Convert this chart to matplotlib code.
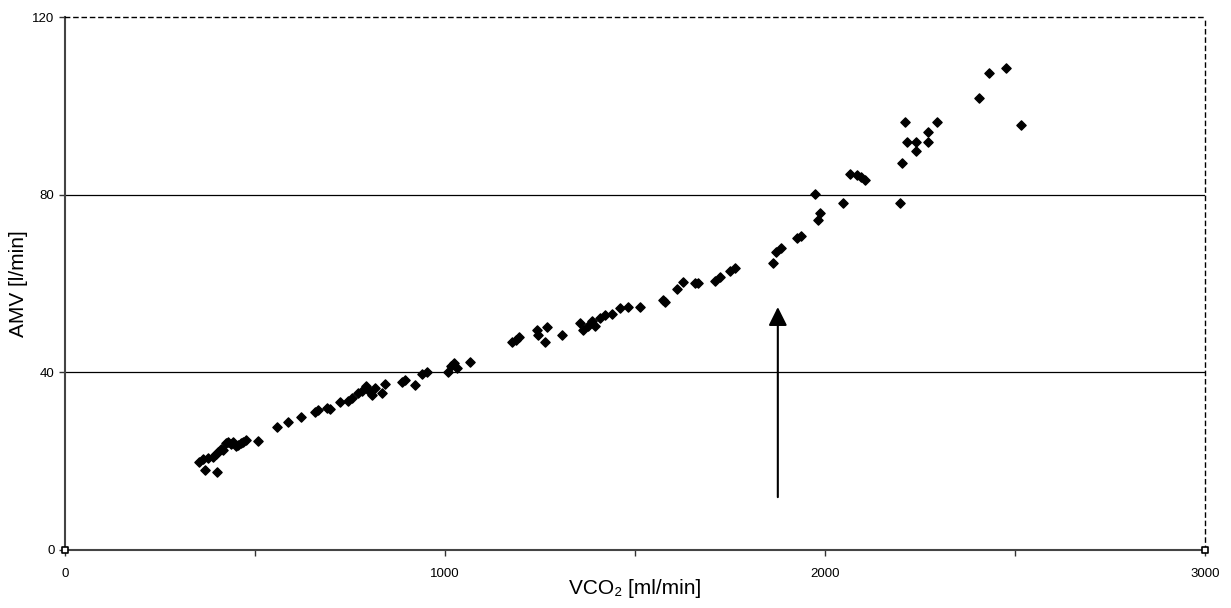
import matplotlib
matplotlib.use("Agg")
import matplotlib.pyplot as plt

plt.rcParams['font.family'] = ['Liberation Sans', 'DejaVu Sans']

# VCO2 [ml/min] and AMV [l/min]
vco2 = [352.6, 363.2, 368.4, 376.3, 389.5, 397.4, 400.0, 402.6, 410.5, 415.8,
        423.7, 428.9, 436.8, 442.1, 450.0, 455.3, 463.2, 468.4, 476.3, 507.9,
        557.9, 586.8, 621.1, 657.9, 665.8, 689.5, 697.4, 723.7, 744.7, 755.3,
        771.1, 781.6, 792.1, 797.4, 807.9, 815.8, 834.2, 842.1, 886.8, 894.7,
        921.1, 939.5, 952.6, 1007.9, 1015.8, 1023.7, 1031.6, 1065.8,
        1176.3, 1186.8, 1194.7, 1242.1, 1244.7, 1268.4, 1263.2, 1307.9,
        1355.3, 1363.2, 1376.3, 1386.8, 1394.7, 1407.9, 1421.1, 1439.5,
        1460.5, 1481.6, 1513.2, 1573.7, 1578.9, 1610.5, 1626.3, 1657.9, 1665.8,
        1710.5, 1723.7, 1750.0, 1763.2,
        1863.2, 1871.1, 1884.2, 1926.3, 1936.8, 1973.7, 1981.6, 1986.8,
        2047.0, 2065.8, 2084.2, 2094.7, 2105.3,
        2197.4, 2202.6, 2210.5, 2215.8, 2239.5, 2239.5, 2271.1, 2271.1, 2294.7,
        2405.3, 2431.6, 2476.3, 2515.8]
amv = [19.8, 20.5, 18.0, 20.7, 20.9, 21.6, 17.6, 22.1, 22.7, 22.5,
       24.1, 24.3, 23.9, 24.3, 23.4, 23.6, 24.1, 24.3, 24.8, 24.5,
       27.7, 28.8, 29.9, 31.1, 31.5, 32.0, 31.7, 33.3, 33.5, 34.2,
       35.3, 35.8, 36.9, 36.0, 34.9, 36.5, 35.3, 37.4, 37.8, 38.3,
       37.1, 39.6, 40.1, 40.1, 41.4, 42.1, 41.0, 42.3,
       46.8, 47.3, 48.0, 49.5, 48.4, 50.2, 46.8, 48.4,
       51.1, 49.5, 50.4, 51.6, 50.4, 52.2, 52.9, 53.1,
       54.5, 54.7, 54.7, 56.3, 55.8, 58.8, 60.3, 60.1, 60.1,
       60.6, 61.5, 62.8, 63.5,
       64.6, 67.1, 68.0, 70.2, 70.7, 80.1, 74.3, 75.9,
       78.1, 84.6, 84.4, 84.0, 83.3,
       78.1, 87.1, 96.4, 91.9, 91.9, 89.8, 91.9, 94.1, 96.4,
       101.8, 107.4, 108.5, 95.7]

# corner points of the Excel chart
corner_x = [0, 3000]
corner_y = [0, 0]

# horizontal gridlines
grid_y = [40, 80]

# arrow position (x, from, to)
arrow_x = 1876
arrow_y0, arrow_y1 = 11.9, 54.7

fig = plt.figure(figsize=(12.31, 6.08), dpi=100)
ax = fig.add_axes([0.0528, 0.0954, 0.926, 0.8766])

for g in grid_y:
    ax.axhline(g, color='black', lw=0.9, zorder=1)

ax.scatter(vco2, amv, marker='D', s=22, color='black', zorder=3)
ax.scatter(corner_x, corner_y, marker='s', s=16, facecolor='white',
           edgecolor='black', linewidth=1.2, zorder=4, clip_on=False)

ax.annotate('', xy=(arrow_x, arrow_y1), xytext=(arrow_x, arrow_y0),
            arrowprops=dict(arrowstyle='-|>', mutation_scale=28, lw=1.5,
                            color='black', shrinkA=0, shrinkB=0))

ax.set_xlim(0, 3000)
ax.set_ylim(0, 120)
ax.set_xticks([0, 1000, 2000, 3000])
ax.set_xticks([500, 1500, 2500], minor=True)
ax.set_yticks([0, 40, 80, 120])
ax.tick_params(axis='both', which='both', direction='out', length=4,
               width=1, labelsize=9.5, color='#333333')
ax.tick_params(axis='x', pad=9)

for s in ['left', 'bottom']:
    ax.spines[s].set_color('#444444')
    ax.spines[s].set_linewidth(1.5)
for s in ['top', 'right']:
    ax.spines[s].set_linestyle((0, (3, 3)))
    ax.spines[s].set_linewidth(1.0)
    ax.spines[s].set_color('black')

ax.set_xlabel('VCO\u2082 [ml/min]', fontsize=15, labelpad=-1)
ax.set_ylabel('AMV [l/min]', fontsize=15, labelpad=3)

fig.savefig('out.png', dpi=100)
